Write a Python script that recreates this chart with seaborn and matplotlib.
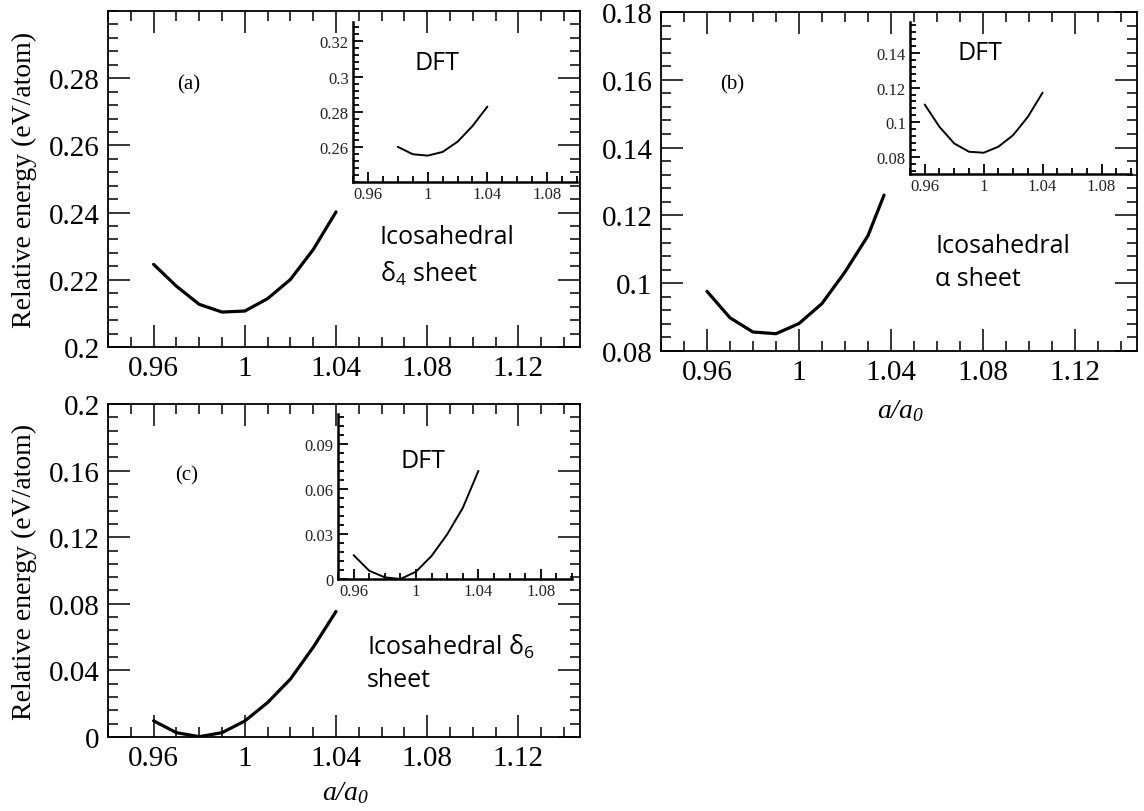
import numpy as np
import pandas as pd
import matplotlib
matplotlib.use("Agg")
import matplotlib.pyplot as plt
from matplotlib.ticker import MultipleLocator, FixedLocator, FuncFormatter
import seaborn as sns

# ---------------- data ----------------
x_a = [0.96, 0.97, 0.98, 0.99, 1.00, 1.01, 1.02, 1.03, 1.04]
e_a = [0.2246, 0.2181, 0.2127, 0.2104, 0.2107, 0.2144, 0.2201, 0.2290, 0.2402]
x_a_dft = [0.98, 0.99, 1.00, 1.01, 1.02, 1.03, 1.04]
e_a_dft = [0.2600, 0.2558, 0.2550, 0.2571, 0.2629, 0.2718, 0.2829]

x_b = [0.96, 0.97, 0.98, 0.99, 1.00, 1.01, 1.02, 1.03, 1.037]
e_b = [0.0976, 0.0898, 0.0856, 0.0851, 0.0881, 0.0940, 0.1033, 0.1140, 0.1260]
x_b_dft = [0.96, 0.97, 0.98, 0.99, 1.00, 1.01, 1.02, 1.03, 1.04]
e_b_dft = [0.1102, 0.0973, 0.0877, 0.0829, 0.0823, 0.0858, 0.0925, 0.1031, 0.1171]

x_c = [0.96, 0.97, 0.98, 0.99, 1.00, 1.01, 1.02, 1.03, 1.04]
e_c = [0.0097, 0.0026, 0.0002, 0.0026, 0.0096, 0.0207, 0.0348, 0.0539, 0.0754]
x_c_dft = [0.96, 0.97, 0.98, 0.99, 1.00, 1.01, 1.02, 1.03, 1.04]
e_c_dft = [0.0159, 0.0055, 0.0011, 0.0000, 0.0049, 0.0154, 0.0298, 0.0474, 0.0721]

main_xticks = [0.96, 1.00, 1.04, 1.08, 1.12]
inset_xticks = [0.96, 1.00, 1.04, 1.08]

panel_labels = ["(a)", "(b)", "(c)"]
sheet_labels = ["Icosahedral\nδ$_\\mathregular{4}$ sheet",
                "Icosahedral\nα sheet",
                "Icosahedral δ$_\\mathregular{6}$\nsheet"]
inset_title = "DFT"
ylabel_text = "Relative energy (eV/atom)"
xlabel_text = "a/a$_\\mathregular{0}$"

# ---------------- style ----------------
sns.set_style("ticks")
plt.rcParams['font.family'] = ['Liberation Serif', 'DejaVu Serif']
plt.rcParams['mathtext.default'] = 'regular'
for k in ['text.color', 'axes.labelcolor', 'xtick.color', 'ytick.color',
          'axes.edgecolor']:
    plt.rcParams[k] = 'black'

SERIF = ['Liberation Serif', 'DejaVu Serif']
SANS = ['Open Sans', 'DejaVu Sans']

W, H = 1144, 812
fig = plt.figure(figsize=(W / 100, H / 100), dpi=100)


def px_axes(left, top, right, bottom):
    return [left / W, 1 - bottom / H, (right - left) / W, (bottom - top) / H]


fmt = FuncFormatter(lambda v, p: "%g" % round(v, 6))


def style_main(ax, ylim, ymajor, yminor):
    ax.set_xlim(0.94, 1.147)
    ax.set_ylim(*ylim)
    ax.xaxis.set_major_locator(FixedLocator(main_xticks))
    ax.xaxis.set_minor_locator(MultipleLocator(0.01))
    ax.yaxis.set_major_locator(FixedLocator(ymajor))
    ax.yaxis.set_minor_locator(MultipleLocator(yminor))
    ax.xaxis.set_major_formatter(fmt)
    ax.yaxis.set_major_formatter(fmt)
    ax.tick_params(which='both', direction='in', top=True, right=True,
                   color='black', labelcolor='black', width=1.1)
    ax.tick_params(which='major', length=16, labelsize=21, pad=6)
    ax.tick_params(which='minor', length=7)
    for lab in ax.get_xticklabels() + ax.get_yticklabels():
        lab.set_family(SERIF)
    for s in ax.spines.values():
        s.set_linewidth(1.3)
        s.set_color('black')
    ax.set_xlabel("")
    ax.set_ylabel("")


def style_inset(ax, ylim, ymajor, yminor):
    ax.set_xlim(0.95, 1.10)
    ax.set_ylim(*ylim)
    ax.patch.set_alpha(0)
    ax.xaxis.set_major_locator(FixedLocator(inset_xticks))
    ax.xaxis.set_minor_locator(MultipleLocator(0.01))
    ax.yaxis.set_major_locator(FixedLocator(ymajor))
    ax.yaxis.set_minor_locator(MultipleLocator(yminor))
    ax.xaxis.set_major_formatter(fmt)
    ax.yaxis.set_major_formatter(fmt)
    ax.spines['top'].set_visible(False)
    ax.spines['right'].set_visible(False)
    for s in ['left', 'bottom']:
        ax.spines[s].set_linewidth(1.8)
        ax.spines[s].set_color('black')
    ax.tick_params(which='both', direction='in', color='black',
                   labelcolor='#222222', width=1.3)
    ax.tick_params(which='major', length=7, labelsize=12, pad=3)
    ax.tick_params(which='minor', length=4)
    for lab in ax.get_xticklabels() + ax.get_yticklabels():
        lab.set_family(SERIF)
    ax.set_xlabel("")
    ax.set_ylabel("")


# ---------------- panel (a) ----------------
ax_a = fig.add_axes(px_axes(108, 12, 580, 348))
sns.lineplot(x=x_a, y=e_a, ax=ax_a, color='black', linewidth=2.3)
style_main(ax_a, (0.2, 0.30), [0.20, 0.22, 0.24, 0.26, 0.28], 0.004)
ax_a.set_ylabel(ylabel_text, fontsize=20, family=SERIF)
ax_a.yaxis.set_label_coords(-0.15, 0.5)
ax_a.text(0.172, 0.783, panel_labels[0], transform=ax_a.transAxes, fontsize=15,
          family=SERIF, ha='center', va='center')
ax_a.text(0.576, 0.272, sheet_labels[0], transform=ax_a.transAxes, fontsize=18,
          family=SANS, ha='left', va='center', linespacing=1.45)

ins_a = fig.add_axes(px_axes(353, 23, 577, 183))
sns.lineplot(x=x_a_dft, y=e_a_dft, ax=ins_a, color='black', linewidth=1.4)
style_inset(ins_a, (0.24, 0.331), [0.26, 0.28, 0.30, 0.32], 0.004)
ins_a.text(0.375, 0.75, inset_title, transform=ins_a.transAxes, fontsize=18,
           family=SANS, ha='center', va='center')

# ---------------- panel (b) ----------------
ax_b = fig.add_axes(px_axes(661, 13, 1137, 352))
sns.lineplot(x=x_b, y=e_b, ax=ax_b, color='black', linewidth=2.3)
style_main(ax_b, (0.08, 0.18), [0.08, 0.10, 0.12, 0.14, 0.16, 0.18], 0.004)
ax_b.set_xlabel(xlabel_text, fontsize=20, family=SERIF, style='italic')
ax_b.xaxis.set_label_coords(0.504, -0.136)
ax_b.text(0.149, 0.788, panel_labels[1], transform=ax_b.transAxes, fontsize=15,
          family=SERIF, ha='center', va='center')
ax_b.text(0.576, 0.262, sheet_labels[1], transform=ax_b.transAxes, fontsize=18,
          family=SANS, ha='left', va='center', linespacing=1.4)

ins_b = fig.add_axes(px_axes(910, 23, 1131, 175))
sns.lineplot(x=x_b_dft, y=e_b_dft, ax=ins_b, color='black', linewidth=1.4)
style_inset(ins_b, (0.07, 0.158), [0.08, 0.10, 0.12, 0.14], 0.004)
ins_b.text(0.317, 0.80, inset_title, transform=ins_b.transAxes, fontsize=18,
           family=SANS, ha='center', va='center')

# ---------------- panel (c) ----------------
ax_c = fig.add_axes(px_axes(108, 405, 580, 738))
sns.lineplot(x=x_c, y=e_c, ax=ax_c, color='black', linewidth=2.3)
style_main(ax_c, (0.0, 0.2), [0.0, 0.04, 0.08, 0.12, 0.16, 0.20], 0.008)
ax_c.set_ylabel(ylabel_text, fontsize=20, family=SERIF)
ax_c.yaxis.set_label_coords(-0.15, 0.5)
ax_c.set_xlabel(xlabel_text, fontsize=20, family=SERIF, style='italic')
ax_c.xaxis.set_label_coords(0.504, -0.126)
ax_c.text(0.167, 0.787, panel_labels[2], transform=ax_c.transAxes, fontsize=15,
          family=SERIF, ha='center', va='center')
ax_c.text(0.549, 0.225, sheet_labels[2], transform=ax_c.transAxes, fontsize=18,
          family=SANS, ha='left', va='center', linespacing=1.4)

ins_c = fig.add_axes(px_axes(338, 415, 572, 580))
sns.lineplot(x=x_c_dft, y=e_c_dft, ax=ins_c, color='black', linewidth=1.4)
style_inset(ins_c, (0.0, 0.11), [0.0, 0.03, 0.06, 0.09], 0.006)
ins_c.text(0.363, 0.72, inset_title, transform=ins_c.transAxes, fontsize=18,
           family=SANS, ha='center', va='center')

fig.savefig("out.png", dpi=100, facecolor='white')
